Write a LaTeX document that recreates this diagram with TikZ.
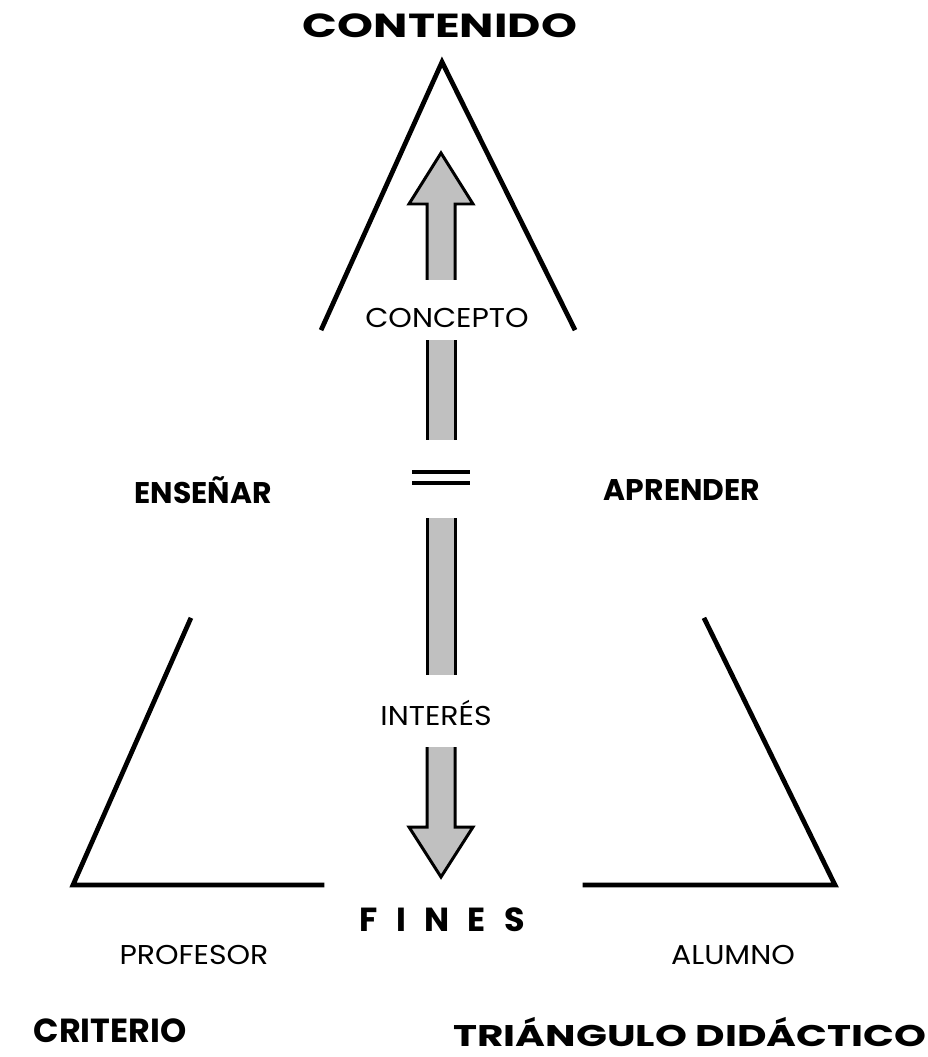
\documentclass[tikz,border=0pt]{standalone}
\usepackage{fontspec}
\setmainfont{Poppins}
\usepackage{tikz}
\usetikzlibrary{positioning}
\definecolor{shaftgray}{RGB}{192,192,192}
\tikzstyle{leg} = [line width=2.7pt, line cap=rect]
\tikzstyle{shaft} = [line width=1.7pt, fill=shaftgray]
\tikzstyle{title} = [font=\bfseries\fontsize{19}{22}\selectfont, inner sep=0pt]
\tikzstyle{pole} = [font=\bfseries\fontsize{17}{20}\selectfont, inner sep=0pt]
\tikzstyle{soft} = [font=\fontsize{15.5}{18}\selectfont\addfontfeatures{FakeStretch=1.1}, inner sep=0pt]
\def\shL{427}
\def\shR{455}
\def\gap{\hspace{0.55em}}

\begin{document}
\begin{tikzpicture}[x=0.02cm,y=-0.02cm]
\useasboundingbox (0,0) rectangle (927,1057);

% triangle pieces
\draw [leg] (322,328) -- (442,62) -- (574,328);
\draw [leg] (190,620) -- (73,885) -- (322,885);
\draw [leg] (705,620) -- (835,885) -- (585,885);

% upward arrow
\draw [shaft] (\shL,280) -- (\shL,204) -- (409,204) -- (441,153) -- (473,204) -- (\shR,204) -- (\shR,280);
\fill [shaftgray] (\shL,340) rectangle (\shR,440);
\draw [shaft] (\shL,340) -- (\shL,440) (\shR,340) -- (\shR,440);

% equal sign
\draw [line width=2pt] (412,472) -- (470,472) (412,483) -- (470,483);

% downward arrow
\fill [shaftgray] (\shL,518) rectangle (\shR,675);
\draw [shaft] (\shL,518) -- (\shL,675) (\shR,518) -- (\shR,675);
\draw [shaft] (\shL,747) -- (\shL,827) -- (409,827) -- (441,877) -- (473,827) -- (\shR,827) -- (\shR,747);

\node (contenido) [title] at (440,26) {\addfontfeatures{FakeStretch=1.37}CONTENIDO};
\node (concepto) [soft] at (447,318) {CONCEPTO};
\node (ensenar) [pole] at (203,490) {ENSEÑAR};
\node (aprender) [pole] at (682,490) {APRENDER};
\node (interes) [soft] at (436,713) {INTERÉS};
\node (fines) [title] at (442,920) {F\gap I\gap N\gap E\gap S};
\node (profesor) [soft] at (194,955) {PROFESOR};
\node (alumno) [soft] at (733,955) {ALUMNO};
\node (criterio) [title] at (110,1031) {CRITERIO};
\node (triangulo) [title, font=\bfseries\fontsize{17}{20}\selectfont\addfontfeatures{FakeStretch=1.36}] at (690,1032) {TRIÁNGULO DIDÁCTICO};

\end{tikzpicture}
\end{document}
